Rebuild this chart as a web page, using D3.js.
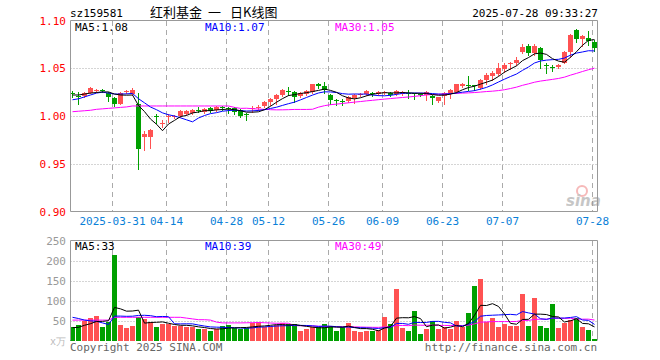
<!DOCTYPE html>
<html>
<head>
<meta charset="utf-8">
<script src="https://cdn.jsdelivr.net/npm/d3@7"></script>
<style>
body { margin: 0; background: #fff; }
text { font-family: "DejaVu Sans Mono", monospace; font-size: 10px; }
</style>
</head>
<body>
<div id="chart"></div>
<script>
// trading days shown (2025)
var dates = ["03-20","03-21","03-24","03-25","03-26","03-27","03-28","03-31","04-01","04-02",
  "04-03","04-07","04-08","04-09","04-10","04-11","04-14","04-15","04-16","04-17",
  "04-18","04-21","04-22","04-23","04-24","04-25","04-28","04-29","04-30","05-06",
  "05-07","05-08","05-09","05-12","05-13","05-14","05-15","05-16","05-19","05-20",
  "05-21","05-22","05-23","05-26","05-27","05-28","05-29","05-30","06-03","06-04",
  "06-05","06-06","06-09","06-10","06-11","06-12","06-13","06-16","06-17","06-18",
  "06-19","06-20","06-23","06-24","06-25","06-26","06-27","06-30","07-01","07-02",
  "07-03","07-04","07-07","07-08","07-09","07-10","07-11","07-14","07-15","07-16",
  "07-17","07-18","07-21","07-22","07-23","07-24","07-25","07-28"];

var opens = [1.024,1.021,1.021,1.024,1.026,1.027,1.024,1.019,1.013,1.025,
  1.023,1.013,0.978,0.978,1.000,0.992,0.999,0.999,1.000,1.002,
  1.003,1.006,1.004,1.008,1.006,1.009,1.008,1.008,1.006,1.002,
  1.007,1.008,1.010,1.015,1.018,1.022,1.026,1.025,1.021,1.023,
  1.025,1.034,1.031,1.022,1.017,1.016,1.016,1.019,1.022,1.023,
  1.024,1.023,1.024,1.024,1.023,1.023,1.024,1.024,1.023,1.022,
  1.021,1.016,1.021,1.024,1.025,1.031,1.032,1.032,1.029,1.038,
  1.042,1.044,1.049,1.054,1.0555,1.067,1.073,1.066,1.0715,1.053,
  1.051,1.051,1.056,1.067,1.090,1.081,1.082,1.077];

var highs = [1.026,1.025,1.025,1.030,1.028,1.028,1.025,1.020,1.025,1.027,
  1.029,1.024,0.984,0.986,1.002,0.996,1.002,1.001,1.006,1.006,
  1.007,1.009,1.008,1.009,1.010,1.010,1.009,1.009,1.007,1.003,
  1.010,1.011,1.016,1.019,1.023,1.028,1.030,1.026,1.025,1.027,
  1.034,1.035,1.036,1.023,1.018,1.018,1.021,1.023,1.024,1.027,
  1.025,1.026,1.026,1.025,1.027,1.026,1.027,1.024,1.024,1.026,
  1.022,1.020,1.025,1.028,1.034,1.035,1.042,1.032,1.039,1.045,
  1.047,1.055,1.056,1.057,1.062,1.075,1.075,1.075,1.072,1.055,
  1.053,1.054,1.068,1.086,1.091,1.085,1.089,1.080];

var lows = [1.020,1.013,1.020,1.024,1.025,1.025,1.016,1.010,1.013,1.024,
  1.022,0.945,0.964,0.966,0.993,0.989,0.994,0.998,0.999,1.001,
  1.002,1.004,1.003,1.004,1.005,1.006,1.003,1.002,0.999,0.996,
  1.004,1.006,1.009,1.012,1.013,1.021,1.022,1.015,1.020,1.022,
  1.024,1.029,1.024,1.013,1.011,1.012,1.015,1.014,1.021,1.022,
  1.021,1.022,1.023,1.021,1.022,1.022,1.019,1.018,1.021,1.017,
  1.013,1.015,1.013,1.019,1.024,1.030,1.027,1.027,1.028,1.034,
  1.038,1.043,1.046,1.049,1.053,1.066,1.064,1.064,1.050,1.045,
  1.047,1.050,1.055,1.0615,1.078,1.073,1.074,1.068];

var closes = [1.023,1.020,1.024,1.029,1.027,1.026,1.020,1.013,1.024,1.026,
  1.027,0.965,0.981,0.985,0.999,0.993,1.000,1.000,1.005,1.005,
  1.006,1.005,1.007,1.005,1.009,1.008,1.007,1.004,1.000,1.001,
  1.008,1.009,1.015,1.018,1.022,1.027,1.025,1.020,1.024,1.026,
  1.033,1.031,1.027,1.017,1.016,1.015,1.0195,1.022,1.023,1.026,
  1.023,1.025,1.025,1.022,1.026,1.025,1.023,1.023,1.022,1.025,
  1.019,1.0195,1.024,1.027,1.033,1.034,1.031,1.031,1.038,1.043,
  1.045,1.050,1.0535,1.055,1.059,1.0725,1.066,1.073,1.059,1.052,
  1.050,1.0535,1.067,1.085,1.081,1.084,1.079,1.071];

// volume in 万手
var volumes = [32.8,38.6,49.3,56,61,34.3,46.8,215,38.6,32,
  36,57.7,52.7,46.8,34.3,41,41,36.8,36.8,34.3,
  34.3,28.6,27.8,24.5,28.6,36,38.6,30.3,27.8,30.3,
  42.8,46.8,34.3,36,38.6,42.8,41,41,24.5,27.8,
  32.8,32.8,41,36,24.5,32.8,45,24.5,22,24.5,
  24.5,26,59,41,129,30.3,24.5,74,16,27.8,
  49.3,27.8,34.3,27.8,49.3,32.8,69,135.6,153,46.8,
  56,34.3,41,36,36,115.7,36,105.7,36,31,
  90.8,31,42.8,51,56,32.8,26,4.5];

var ma5Head = [1.022,1.022,1.023,1.024];
var ma10Head = [1.017,1.018,1.020,1.022,1.024,1.025,1.024,1.023,1.023];
var ma30Head = [1.0045,1.005,1.0055,1.006,1.007,1.0075,1.008,1.0085,1.009,1.0095,
  1.0105,1.0105,1.0105,1.0105,1.0105,1.0105,1.0105,1.0105,1.0105,1.0105,
  1.0105,1.0105,1.0105,1.0105,1.0105,1.0105,1.0105,1.009,1.008];
var volMa5Head = [32,33,38,42];
var volMa10Head = [58,55,51,49,48,44,40,61,61];
var volMa30Head = [51,51,51,51,51,51,51,58,58,58,
  58,58,58,58,58,58,58,58,58,56,
  54,52,52,51,46,44,44,44,44];

// axis labels
var tickDates = ["03-31","04-14","04-28","05-12","05-26","06-09","06-23","07-07","07-28"];
var tickLabels = ["2025-03-31","04-14","04-28","05-12","05-26","06-09","06-23","07-07","07-28"];
var priceTicks = [1.10, 1.05, 1.00, 0.95, 0.90];
var volTicks = [250, 200, 150, 100, 50];

var svgWidth = 660;
var svgHeight = 360;

var red = "#ff5252";
var green = "#00a000";

var svg = d3.select("#chart")
    .append("svg")
    .attr("width", svgWidth)
    .attr("height", svgHeight);

// moving average: mean of last n values, head values where history is missing
function movingAvg(values, n, head) {
    return values.map(function(v, i) {
        if (i < n - 1) return head[i];
        return d3.mean(values.slice(i - n + 1, i + 1));
    });
}

var ma5 = movingAvg(closes, 5, ma5Head);
var ma10 = movingAvg(closes, 10, ma10Head);
var ma30 = movingAvg(closes, 30, ma30Head);
var vma5 = movingAvg(volumes, 5, volMa5Head);
var vma10 = movingAvg(volumes, 10, volMa10Head);
var vma30 = movingAvg(volumes, 30, volMa30Head);

// scales
var xScale = d3.scaleBand().domain(dates).range([69, 597]);
var cx = d => xScale(d) + 3;

var yScale = d3.scaleLinear().domain([0.90, 1.10]).range([211.5, 20.5]);
var yVol = d3.scaleLinear().domain([0, 250]).range([340.5, 240.5]);

var left = 70.5, right = 597.5;

// ---- grid lines ----
function drawGrid(y0, y1, ticks, scale) {
    svg.append("g").selectAll("line")
        .data(ticks)
        .enter()
        .append("line")
        .attr("x1", left).attr("x2", right)
        .attr("y1", d => Math.round(scale(d)) + 0.5)
        .attr("y2", d => Math.round(scale(d)) + 0.5)
        .attr("stroke", "#aaa")
        .attr("stroke-dasharray", "1,2");

    svg.append("g").selectAll("line")
        .data(tickDates)
        .enter()
        .append("line")
        .attr("x1", d => cx(d) - 1.5).attr("x2", d => cx(d) - 1.5)
        .attr("y1", y0).attr("y2", y1)
        .attr("stroke", "#aaa")
        .attr("stroke-dasharray", "5,4");
}
drawGrid(21, 211, [1.05, 1.00, 0.95], yScale);
drawGrid(241, 340, [200, 150, 100, 50], yVol);

// ---- watermark ----
var wm = svg.append("g").attr("opacity", 0.55);
wm.append("circle").attr("cx", 582).attr("cy", 191).attr("r", 5)
    .attr("fill", "none").attr("stroke", "#f08080").attr("stroke-width", 2);
wm.append("text").attr("x", 566).attr("y", 206)
    .style("font-family", "DejaVu Sans")
    .style("font-size", "15px").style("font-style", "italic").style("font-weight", "bold")
    .attr("fill", "#999").text("sina");

// ---- candles ----
var idx = d3.range(dates.length);
var candles = svg.append("g").selectAll("g")
    .data(idx)
    .enter()
    .append("g");

candles.append("line")
    .attr("x1", i => cx(dates[i]) + 0.5).attr("x2", i => cx(dates[i]) + 0.5)
    .attr("y1", i => Math.round(yScale(highs[i])))
    .attr("y2", i => Math.round(yScale(lows[i])) + 1)
    .attr("stroke", i => closes[i] >= opens[i] ? red : green);

candles.append("rect")
    .attr("x", i => cx(dates[i]) - 2)
    .attr("width", 5)
    .attr("y", i => Math.round(yScale(Math.max(opens[i], closes[i]))))
    .attr("height", i => Math.max(1, Math.round(yScale(Math.min(opens[i], closes[i]))) - Math.round(yScale(Math.max(opens[i], closes[i])))))
    .attr("fill", i => closes[i] >= opens[i] ? red : green);

// ---- volume bars ----
svg.append("g").selectAll("rect")
    .data(idx)
    .enter()
    .append("rect")
    .attr("x", i => cx(dates[i]) - 2)
    .attr("width", 5)
    .attr("y", i => Math.round(yVol(volumes[i])))
    .attr("height", i => 341 - Math.round(yVol(volumes[i])))
    .attr("fill", i => closes[i] >= opens[i] ? red : green);

// ---- MA lines ----
function drawLine(values, scale, color) {
    var line = d3.line()
        .x((d, i) => cx(dates[i]) + 0.5)
        .y(d => scale(d));
    svg.append("path")
        .datum(values)
        .attr("d", line)
        .attr("fill", "none")
        .attr("stroke", color)
        .attr("stroke-width", 1);
}
drawLine(ma30, yScale, "#ff00ff");
drawLine(ma10, yScale, "#0000ff");
drawLine(ma5, yScale, "#000000");
drawLine(vma30, yVol, "#ff00ff");
drawLine(vma10, yVol, "#0000ff");
drawLine(vma5, yVol, "#000000");

// ---- frames ----
svg.append("path")
    .attr("d", `M${left},211.5V20.5H${right}V211.5H${left}`)
    .attr("fill", "none").attr("stroke", "#999");
svg.append("path")
    .attr("d", `M${left},340.5V240.5H${right}V340.5`)
    .attr("fill", "none").attr("stroke", "#999");

// ---- axes ----
var yAxis = d3.axisLeft(yScale).tickValues(priceTicks).tickFormat(d3.format(".2f")).tickSize(0).tickPadding(4);
svg.append("g").attr("transform", "translate(70,0)").call(yAxis)
    .call(g => g.select(".domain").remove())
    .selectAll("text").attr("fill", "#ff0000").style("font-size", "11px");

var vAxis = d3.axisLeft(yVol).tickValues(volTicks).tickSize(0).tickPadding(4);
svg.append("g").attr("transform", "translate(70,0)").call(vAxis)
    .call(g => g.select(".domain").remove())
    .selectAll("text").attr("fill", "#999").style("font-size", "11px");

var xAxis = d3.axisBottom(xScale).tickValues(tickDates)
    .tickFormat((d, i) => tickLabels[i]).tickSize(0).tickPadding(6);
svg.append("g").attr("transform", "translate(-1.5,211)").call(xAxis)
    .call(g => g.select(".domain").remove())
    .selectAll("text").attr("fill", "#0a80d8").style("font-size", "11px");

// ---- texts ----
svg.append("text").attr("x", 70).attr("y", 17).style("font-size", "11px").text("sz159581");
// title pieces placed apart, as in the original
var titleFont = "'Noto Sans CJK SC', sans-serif";
[["红利基金", 150], ["一", 208], ["日K线图", 230]].forEach(function(t) {
    svg.append("text").attr("x", t[1]).attr("y", 17)
        .style("font-family", titleFont).style("font-size", "13px")
        .text(t[0]);
});
svg.append("text").attr("x", 598).attr("y", 17).attr("text-anchor", "end")
    .style("font-size", "11px").text("2025-07-28 09:33:27");

function maLabels(y, texts) {
    var xs = [75, 205, 335];
    var cols = ["#000", "#0000ff", "#ff00ff"];
    texts.forEach(function(t, k) {
        svg.append("text").attr("x", xs[k]).attr("y", y)
            .attr("fill", cols[k]).style("font-size", "11px").text(t);
    });
}
maLabels(31, ["MA5:1.08", "MA10:1.07", "MA30:1.05"]);
maLabels(250, ["MA5:33", "MA10:39", "MA30:49"]);

svg.append("text").attr("x", 50).attr("y", 345).attr("fill", "#bbb").text("x万");
svg.append("text").attr("x", 70).attr("y", 351).attr("fill", "#666")
    .style("font-size", "11px").text("Copyright 2025 SINA.COM");
svg.append("text").attr("x", 597).attr("y", 351).attr("text-anchor", "end").attr("fill", "#666")
    .style("font-size", "11px").text("http://finance.sina.com.cn");
</script>
</body>
</html>
